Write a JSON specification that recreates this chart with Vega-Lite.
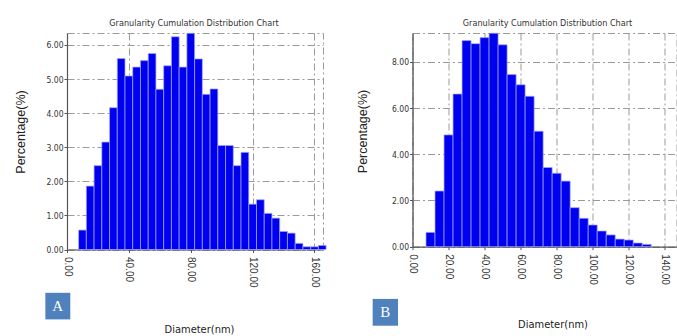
{
  "$schema": "https://vega.github.io/schema/vega-lite/v6.json",
  "autosize": {"type": "none"},
  "padding": {"left": 67, "top": 33, "right": 0, "bottom": 0},
  "params": [
    {"name": "width", "value": 610},
    {"name": "height", "value": 303}
  ],
  "background": "white",
  "spacing": 89.5,
  "bounds": "flush",
  "config": {
    "view": {"stroke": "#9a9a9a", "strokeDash": [7, 3, 2, 3], "strokeWidth": 1},
    "axis": {
      "grid": true,
      "gridColor": "#9a9a9a",
      "gridDash": [7, 3, 2, 3],
      "gridWidth": 1,
      "domainColor": "#555555",
      "domainWidth": 1.2,
      "tickColor": "#555555",
      "tickSize": 3,
      "tickCount": 50,
      "labelColor": "#333333",
      "labelOverlap": false,
      "labelFlush": false,
      "titleColor": "#222222",
      "titleFont": "Liberation Sans, Arial, sans-serif",
      "titleFontWeight": "normal",
      "titleFontSize": 12.5
    },
    "axisX": {
      "labelAngle": 90,
      "labelAlign": "left",
      "labelBaseline": "middle",
      "labelFont": "Liberation Sans, Arial, sans-serif",
      "labelFontSize": 10,
      "labelPadding": 4,
      "titleFont": "Liberation Sans Narrow, Arial Narrow, DejaVu Sans Condensed, sans-serif",
      "titleFontSize": 11,
      "titleBaseline": "middle",
      "titleAlign": "center"
    },
    "axisY": {
      "labelFont": "Liberation Sans Narrow, Arial Narrow, DejaVu Sans Condensed, sans-serif",
      "labelFontSize": 8.5,
      "labelPadding": 1,
      "titleAngle": -90,
      "titleBaseline": "middle",
      "titleAlign": "center"
    },
    "title": {
      "font": "Liberation Sans Narrow, Arial Narrow, DejaVu Sans Condensed, sans-serif",
      "fontSize": 9,
      "fontWeight": "normal",
      "color": "#333333",
      "frame": "group",
      "anchor": "middle",
      "baseline": "alphabetic",
      "offset": 5
    }
  },
  "datasets": {
    "A": [
      {"d0": 7.5, "d1": 12.5, "pct": 0.57},
      {"d0": 12.5, "d1": 17.5, "pct": 1.86},
      {"d0": 17.5, "d1": 22.5, "pct": 2.46},
      {"d0": 22.5, "d1": 27.5, "pct": 3.15},
      {"d0": 27.5, "d1": 32.5, "pct": 4.16},
      {"d0": 32.5, "d1": 37.5, "pct": 5.6},
      {"d0": 37.5, "d1": 42.5, "pct": 5.09},
      {"d0": 42.5, "d1": 47.5, "pct": 5.35},
      {"d0": 47.5, "d1": 52.5, "pct": 5.54},
      {"d0": 52.5, "d1": 57.5, "pct": 5.75},
      {"d0": 57.5, "d1": 62.5, "pct": 4.7},
      {"d0": 62.5, "d1": 67.5, "pct": 5.39},
      {"d0": 67.5, "d1": 72.5, "pct": 6.24},
      {"d0": 72.5, "d1": 77.5, "pct": 5.35},
      {"d0": 77.5, "d1": 82.5, "pct": 6.34},
      {"d0": 82.5, "d1": 87.5, "pct": 5.59},
      {"d0": 87.5, "d1": 92.5, "pct": 4.55},
      {"d0": 92.5, "d1": 97.5, "pct": 4.71},
      {"d0": 97.5, "d1": 102.5, "pct": 3.05},
      {"d0": 102.5, "d1": 107.5, "pct": 3.05},
      {"d0": 107.5, "d1": 112.5, "pct": 2.46},
      {"d0": 112.5, "d1": 117.5, "pct": 2.85},
      {"d0": 117.5, "d1": 122.5, "pct": 1.33},
      {"d0": 122.5, "d1": 127.5, "pct": 1.46},
      {"d0": 127.5, "d1": 132.5, "pct": 1.06},
      {"d0": 132.5, "d1": 137.5, "pct": 0.92},
      {"d0": 137.5, "d1": 142.5, "pct": 0.53},
      {"d0": 142.5, "d1": 147.5, "pct": 0.48},
      {"d0": 147.5, "d1": 152.5, "pct": 0.18},
      {"d0": 152.5, "d1": 157.5, "pct": 0.08},
      {"d0": 157.5, "d1": 162.5, "pct": 0.08},
      {"d0": 162.5, "d1": 167.5, "pct": 0.12}
    ],
    "B": [
      {"d0": 7.5, "d1": 12.5, "pct": 0.62},
      {"d0": 12.5, "d1": 17.5, "pct": 2.41},
      {"d0": 17.5, "d1": 22.5, "pct": 4.84},
      {"d0": 22.5, "d1": 27.5, "pct": 6.61},
      {"d0": 27.5, "d1": 32.5, "pct": 8.92},
      {"d0": 32.5, "d1": 37.5, "pct": 8.79},
      {"d0": 37.5, "d1": 42.5, "pct": 9.05},
      {"d0": 42.5, "d1": 47.5, "pct": 9.24},
      {"d0": 47.5, "d1": 52.5, "pct": 8.74},
      {"d0": 52.5, "d1": 57.5, "pct": 7.45},
      {"d0": 57.5, "d1": 62.5, "pct": 7.01},
      {"d0": 62.5, "d1": 67.5, "pct": 6.51},
      {"d0": 67.5, "d1": 72.5, "pct": 5.0},
      {"d0": 72.5, "d1": 77.5, "pct": 3.43},
      {"d0": 77.5, "d1": 82.5, "pct": 3.18},
      {"d0": 82.5, "d1": 87.5, "pct": 2.84},
      {"d0": 87.5, "d1": 92.5, "pct": 1.69},
      {"d0": 92.5, "d1": 97.5, "pct": 1.23},
      {"d0": 97.5, "d1": 102.5, "pct": 0.94},
      {"d0": 102.5, "d1": 107.5, "pct": 0.68},
      {"d0": 107.5, "d1": 112.5, "pct": 0.51},
      {"d0": 112.5, "d1": 117.5, "pct": 0.33},
      {"d0": 117.5, "d1": 122.5, "pct": 0.29},
      {"d0": 122.5, "d1": 127.5, "pct": 0.16},
      {"d0": 127.5, "d1": 132.5, "pct": 0.1}
    ]
  },
  "hconcat": [
    {
      "width": 256,
      "height": 216.5,
      "title": {"text": "Granularity Cumulation Distribution  Chart", "dx": -1},
      "layer": [
        {
          "data": {"name": "A"},
          "mark": {"type": "rect", "fill": "#0000F0", "stroke": "#a8a8ff", "strokeWidth": 0.7},
          "encoding": {
            "x": {
              "field": "d0", "type": "quantitative",
              "scale": {"domain": [0, 165.5], "nice": false, "zero": false},
              "axis": {"values": [0, 40, 80, 120, 160], "tickCount": 50, "format": ".2f", "title": "Diameter(nm)", "titleX": 132, "titleY": 80}
            },
            "x2": {"field": "d1"},
            "y": {
              "field": "pct", "type": "quantitative",
              "scale": {"domain": [0, 6.35], "nice": false},
              "axis": {"values": [0, 1, 2, 3, 4, 5, 6], "tickCount": 50, "format": ".2f", "title": "Percentage(%)", "titleX": -47, "titleY": 98.5}
            },
            "y2": {"datum": 0}
          }
        },
        {
          "data": {"values": [{"tag": "A"}]},
          "mark": {"type": "rect", "fill": "#4F81BD"},
          "encoding": {
            "x": {"datum": -14.0, "type": "quantitative"},
            "x2": {"datum": 2.13},
            "y": {"datum": -1.27, "type": "quantitative"},
            "y2": {"datum": -2.05}
          }
        },
        {
          "data": {"values": [{"tag": "A"}]},
          "mark": {"type": "text", "color": "white", "font": "Liberation Serif, DejaVu Serif, serif", "fontSize": 15, "align": "center", "baseline": "middle"},
          "encoding": {
            "x": {"datum": -6.0, "type": "quantitative"},
            "y": {"datum": -1.66, "type": "quantitative"},
            "text": {"field": "tag"}
          }
        }
      ]
    },
    {
      "width": 264,
      "height": 213.7,
      "title": {"text": "Granularity Cumulation Distribution  Chart", "dx": 3},
      "layer": [
        {
          "data": {"name": "B"},
          "mark": {"type": "rect", "fill": "#0000F0", "stroke": "#a8a8ff", "strokeWidth": 0.7},
          "encoding": {
            "x": {
              "field": "d0", "type": "quantitative",
              "scale": {"domain": [0, 146.5], "nice": false, "zero": false},
              "axis": {"values": [0, 20, 40, 60, 80, 100, 120, 140], "tickCount": 50, "format": ".2f", "title": "Diameter(nm)", "titleX": 140, "titleY": 77.5}
            },
            "x2": {"field": "d1"},
            "y": {
              "field": "pct", "type": "quantitative",
              "scale": {"domain": [0, 9.25], "nice": false},
              "axis": {"values": [0, 2, 4, 6, 8], "tickCount": 50, "format": ".2f", "title": "Percentage(%)", "titleX": -50, "titleY": 98}
            },
            "y2": {"datum": 0}
          }
        },
        {
          "data": {"values": [{"tag": "B"}]},
          "mark": {"type": "rect", "fill": "#4F81BD"},
          "encoding": {
            "x": {"datum": -22.1, "type": "quantitative"},
            "x2": {"datum": -8.05},
            "y": {"datum": -2.26, "type": "quantitative"},
            "y2": {"datum": -3.42}
          }
        },
        {
          "data": {"values": [{"tag": "B"}]},
          "mark": {"type": "text", "color": "white", "font": "Liberation Serif, DejaVu Serif, serif", "fontSize": 15, "align": "center", "baseline": "middle"},
          "encoding": {
            "x": {"datum": -15.1, "type": "quantitative"},
            "y": {"datum": -2.84, "type": "quantitative"},
            "text": {"field": "tag"}
          }
        }
      ]
    }
  ]
}
